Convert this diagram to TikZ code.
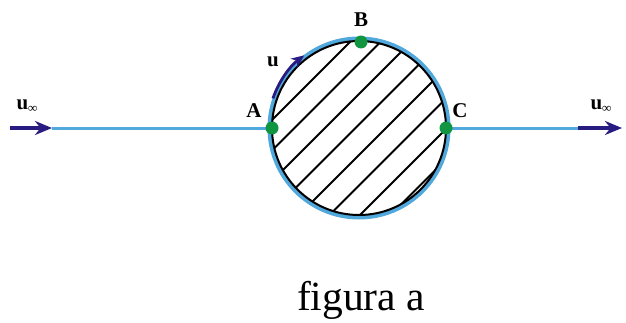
\documentclass[tikz,border=0pt]{standalone}
\usepackage{fontspec}
\setmainfont{Liberation Serif}
\usetikzlibrary{arrows.meta}
\definecolor{flow}{RGB}{80,168,220}
\definecolor{navy}{RGB}{40,28,128}
\definecolor{dotgreen}{RGB}{16,150,64}
\begin{document}
\begin{tikzpicture}[x=1pt,y=1pt,
  flowline/.style={flow, line width=3pt},
  navyarrow/.style={navy, line width=3.4pt, -{Stealth[length=17pt,width=14pt]}},
  dot/.style={circle, fill=dotgreen, inner sep=0pt, minimum size=13pt},
  lbl/.style={font=\fontsize{21}{21}\selectfont\bfseries, inner sep=0pt},
  hatch/.style={black, line width=1.8pt}]
\useasboundingbox (0,0) rectangle (626,322);
\coordinate (O) at (359,194);
\coordinate (L0) at (10,194);
\coordinate (L1) at (52,194);
\coordinate (R0) at (578,194);
\coordinate (R1) at (622,194);
\coordinate (pA) at (272,194);
\coordinate (pC) at (446,194);
\coordinate (pB) at (361,280);
% flow line
\draw[flowline] (L1) -- (pA);
\draw[flowline] (pC) -- (R0);
\draw[navyarrow] (L0) -- (L1);
\draw[navyarrow] (R0) -- (R1);
% cylinder
\draw[flow, line width=4pt] (O) circle[radius=89.5];
\begin{scope}
  \clip (O) circle[radius=87];
  \foreach \k in {0,...,7} {
    \pgfmathsetmacro\dd{-70-30.5*\k}
    \draw[hatch] (250,250+\dd) -- (470,470+\dd);
  }
\end{scope}
\draw[black, line width=2pt] (O) circle[radius=87];
% u arrow along surface
\draw[navy, line width=2.8pt, -{Stealth[length=13pt,width=11pt]}] (O) ++(161:91) arc[start angle=161, end angle=127, radius=91];
% stagnation / top points
\node[dot] (A) at (pA) {};
\node[dot] (B) at (pB) {};
\node[dot] (C) at (pC) {};
% labels
\node[lbl] (lA) at (254,211) {A};
\node[lbl] (lB) at (361,302) {B};
\node[lbl] (lC) at (460,211) {C};
\node[lbl] (lu) at (273,260) {u};
\node[lbl] (uinfL) at (27,216) {u\raisebox{-3pt}{\fontsize{13}{13}\selectfont ∞}};
\node[lbl] (uinfR) at (601,216) {u\raisebox{-3pt}{\fontsize{13}{13}\selectfont ∞}};
\node[font=\fontsize{41.5}{41.5}\selectfont, anchor=base, inner sep=0pt] (cap) at (361,12) {figura a};
\end{tikzpicture}
\end{document}
